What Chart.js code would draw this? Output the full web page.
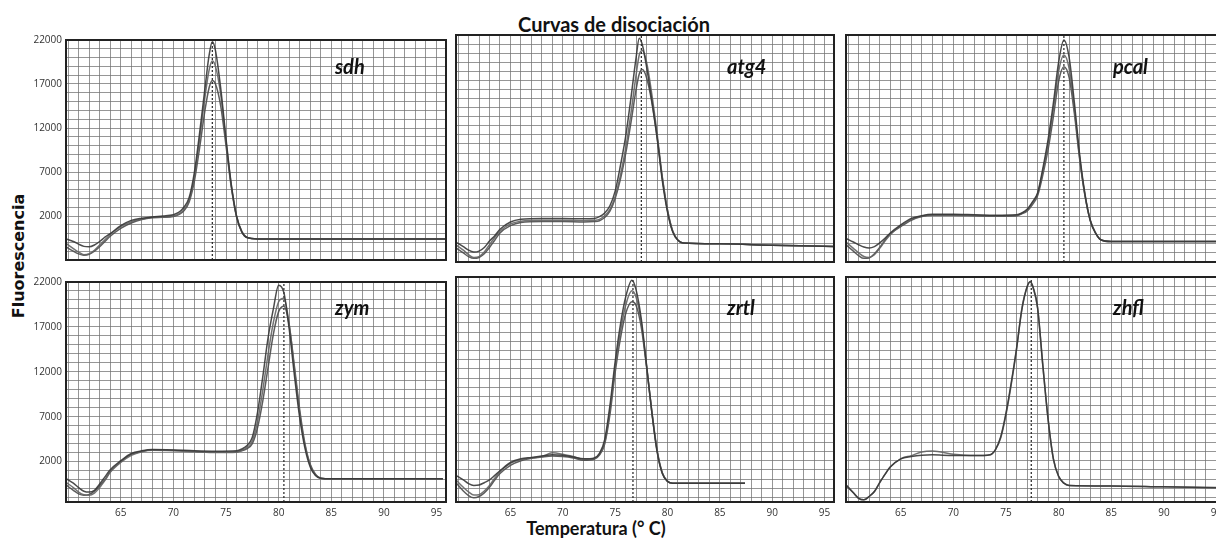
<!DOCTYPE html>
<html>
<head>
<meta charset="utf-8">
<script src="https://cdn.jsdelivr.net/npm/chart.js@4.4.1/dist/chart.umd.min.js"></script>
<style>
    body { margin: 0; width: 1216px; height: 543px; overflow: hidden; background: #fff; position: relative; }
    .panel { position: absolute; }
    .gene { position: absolute; font: italic bold 20px Lato, sans-serif; line-height: 20px; color: #111; }
    #title { position: absolute; left: 464px; top: 14px; width: 300px; text-align: center; font: bold 20px Lato, sans-serif; line-height: 20px; color: #111; }
    #xlabel { position: absolute; left: 496px; top: 519px; width: 200px; text-align: center; font: bold 18px Lato, sans-serif; line-height: 18px; color: #111; }
    #ylabel { position: absolute; left: -61px; top: 248px; width: 160px; text-align: center; font: bold 16px "DejaVu Sans", sans-serif; line-height: 16px; color: #111; transform: rotate(-90deg); }
</style>
</head>
<body>
<div id="title">Curvas de disociación</div>
<div id="ylabel">Fluorescencia</div>
<div id="xlabel">Temperatura (° C)</div>

<script>
// genes, in panel order (left to right, top to bottom)
const genes = ['sdh', 'atg4', 'pcal', 'zym', 'zrtl', 'zhfl'];
const peakTemps = [73.7, 77.5, 80.5, 80.5, 76.7, 77.4];
const yTickLabels = [2000, 7000, 12000, 17000, 22000];
const xTickLabels = [65, 70, 75, 80, 85, 90, 95];

// sdh
const sdhTemps = [59.8, 60.5, 61, 61.5, 62, 62.5, 63, 63.5, 64, 65, 66, 67, 68, 69, 70, 70.5, 71, 71.5, 72, 72.5, 73, 73.4, 73.7, 74, 74.5, 75, 75.5, 76, 76.5, 77, 78, 85, 95.9];
const sdhRuns = [
    [-600, -900, -1200, -1450, -1500, -1300, -900, -400, 0, 900, 1500, 1750, 1900, 2000, 2150, 2400, 3000, 4100, 7000, 11500, 16500, 20300, 21800, 20800, 16500, 10800, 5600, 2000, 200, -450, -600, -600, -620],
    [-1100, -1700, -2100, -2400, -2300, -1900, -1300, -700, -100, 800, 1350, 1650, 1850, 1900, 2000, 2200, 2700, 3800, 6500, 10800, 15500, 18600, 19600, 19000, 15800, 10500, 5500, 2000, 250, -450, -600, -600, -620],
    [-1500, -2000, -2300, -2450, -2350, -2000, -1500, -900, -300, 600, 1200, 1600, 1800, 1850, 1950, 2150, 2600, 3600, 6000, 9800, 14000, 16600, 17400, 17000, 14500, 10000, 5300, 1900, 200, -450, -600, -600, -620]
];

// atg4
const atg4Temps = [59.8, 60.5, 61, 61.5, 62, 62.5, 63, 63.5, 64, 65, 66, 68, 70, 72, 73, 73.5, 74, 74.5, 75, 75.5, 76, 76.5, 77, 77.3, 77.6, 78, 78.5, 79, 79.5, 80, 80.5, 81, 81.5, 85, 90, 95.9];
const atg4Runs = [
    [-800, -1300, -1700, -1900, -1800, -1400, -700, -100, 600, 1400, 1700, 1800, 1800, 1750, 1800, 2000, 2400, 3200, 4800, 7600, 10800, 15000, 19500, 21650, 20900, 18500, 14800, 10800, 6000, 2500, 300, -600, -900, -1000, -1150, -1300],
    [-1100, -1700, -2200, -2500, -2400, -1900, -1100, -300, 400, 1200, 1500, 1600, 1600, 1550, 1600, 1700, 2100, 2800, 4200, 6500, 9500, 13300, 17600, 19800, 20300, 19000, 15500, 11200, 6400, 2700, 400, -600, -900, -1000, -1150, -1300],
    [-1450, -2000, -2400, -2600, -2500, -2100, -1400, -600, 200, 1000, 1350, 1450, 1450, 1400, 1450, 1550, 1900, 2600, 4000, 6100, 8900, 12300, 16000, 17700, 18200, 17300, 14600, 10700, 6300, 2700, 400, -600, -900, -1000, -1150, -1300]
];

// pcal
const pcalTemps = [59.8, 60.5, 61, 61.5, 62, 62.5, 63, 63.5, 64, 65, 66, 67, 68, 70, 72, 74, 76, 76.5, 77, 77.5, 78, 78.5, 79, 79.5, 80, 80.5, 81, 81.5, 82, 82.5, 83, 83.5, 84, 85, 95.9];
const pcalRuns = [
    [-400, -800, -1100, -1350, -1450, -1300, -900, -400, 200, 1100, 1800, 2100, 2250, 2250, 2200, 2150, 2200, 2400, 2800, 3600, 4600, 7300, 10500, 14500, 19000, 21450, 19500, 14500, 8800, 4500, 1600, 200, -550, -750, -750],
    [-800, -1500, -2000, -2400, -2500, -2200, -1500, -700, 0, 1000, 1700, 2050, 2200, 2200, 2150, 2100, 2150, 2350, 2700, 3500, 4500, 7000, 10000, 13800, 18000, 19800, 18300, 13800, 8500, 4400, 1600, 200, -550, -750, -750],
    [-1100, -1800, -2300, -2600, -2550, -2100, -1400, -600, 100, 900, 1600, 2000, 2150, 2150, 2100, 2050, 2100, 2300, 2600, 3300, 4300, 6600, 9400, 13000, 16900, 18500, 17300, 13300, 8300, 4300, 1600, 200, -550, -750, -750]
];

// zym
const zymTemps = [59.8, 60.5, 61, 61.5, 62, 62.5, 63, 63.5, 64, 65, 66, 67, 68, 70, 72, 74, 76, 76.5, 77, 77.5, 78, 78.5, 79, 79.5, 80, 80.5, 81, 81.5, 82, 82.5, 83, 83.5, 84, 85, 95.6];
const zymRuns = [
    [100, -400, -900, -1300, -1400, -1200, -500, 300, 1100, 2100, 2900, 3200, 3350, 3300, 3200, 3150, 3200, 3400, 3800, 4700, 7500, 11500, 15800, 19000, 21650, 20800, 16800, 11600, 6900, 3500, 1400, 450, 150, 80, 80],
    [-300, -900, -1400, -1700, -1750, -1500, -900, -100, 800, 1900, 2700, 3100, 3250, 3200, 3100, 3000, 3050, 3250, 3600, 4300, 6500, 10000, 14000, 17500, 19800, 20200, 17300, 12300, 7400, 3800, 1600, 500, 150, 80, 80],
    [-600, -1200, -1600, -1750, -1650, -1300, -700, 0, 900, 2000, 2800, 3150, 3300, 3250, 3150, 3050, 3100, 3200, 3450, 4000, 5800, 8800, 12500, 16200, 18700, 19300, 17200, 12600, 7800, 4000, 1700, 600, 150, 80, 80]
];

// zrtl
const zrtlTemps = [59.8, 60.5, 61, 61.5, 62, 62.5, 63, 63.5, 64, 65, 66, 67, 68, 69, 70, 71, 72, 73, 73.5, 74, 74.5, 75, 75.5, 76, 76.6, 77, 77.5, 78, 78.5, 79, 79.5, 80, 80.5, 87.4];
const zrtlRuns = [
    [400, -100, -500, -700, -650, -400, -100, 400, 900, 1800, 2200, 2350, 2500, 2650, 2600, 2400, 2200, 2300, 2800, 4300, 8000, 12800, 16800, 19800, 21650, 20600, 17400, 12400, 7300, 3000, 600, -250, -450, -470],
    [-100, -900, -1400, -1750, -1700, -1300, -700, 100, 800, 1700, 2100, 2300, 2450, 2850, 2700, 2450, 2150, 2250, 2700, 4000, 7500, 12200, 16000, 18900, 20500, 19800, 17000, 12300, 7300, 3100, 650, -250, -450, -470],
    [-400, -1300, -1800, -2050, -1900, -1500, -900, -100, 600, 1500, 2000, 2250, 2400, 2500, 2450, 2300, 2050, 2150, 2600, 3800, 7000, 11600, 15300, 18000, 19300, 18900, 16500, 12200, 7400, 3200, 700, -250, -450, -470]
];

// zhfl
const zhflTemps = [59.8, 60.5, 61, 61.5, 62, 62.5, 63, 63.5, 64, 65, 66, 67, 68, 70, 72, 73.5, 74, 74.5, 75, 75.5, 76, 76.5, 77, 77.3, 77.6, 78, 78.5, 79, 79.5, 80, 80.5, 81, 85, 90, 95.9];
const zhflRuns = [
    [-650, -1500, -2100, -2250, -1900, -1350, -400, 500, 1300, 2200, 2450, 2600, 2650, 2550, 2550, 2650, 3200, 4600, 7200, 10500, 14200, 18400, 20900, 21500, 20800, 18700, 12400, 6500, 2200, 300, -450, -700, -750, -850, -950],
    [-650, -1500, -2100, -2250, -1900, -1350, -400, 500, 1300, 2200, 2550, 2950, 3050, 2700, 2550, 2650, 3200, 4500, 7000, 10300, 14100, 18500, 20900, 21450, 20700, 18600, 12300, 6500, 2200, 300, -450, -700, -750, -850, -950]
];

const allTemps = [sdhTemps, atg4Temps, pcalTemps, zymTemps, zrtlTemps, zhflTemps];
const allRuns = [sdhRuns, atg4Runs, pcalRuns, zymRuns, zrtlRuns, zhflRuns];

// layout of the 2x3 grid (pixels)
const colLeft = [0, 450, 840];
const colWidth = [450, 390, 392];
const yAxisWidth = [66, 6, 6];
const padRight = [4, 6, 6];
const rowTop = [30, 272];
const rowHeight = [240, 250];
const xAxisHeight = [8, 20];
const rowMin = [-3000, -2500];
const geneLeft = [335, 727, 1113];
const geneTop = [56, 297];
const xMin = 59.8;
const xMax = 95.9;

const runColors = ['rgba(55,55,55,0.9)', 'rgba(100,100,100,0.9)', 'rgba(75,75,75,0.9)'];
const gridColor = 'rgba(115,115,115,0.75)';

const frame = {
    id: 'frame',
    afterDraw(chart) {
        const { ctx, chartArea: a } = chart;
        ctx.save();
        ctx.strokeStyle = '#222';
        ctx.lineWidth = 2;
        ctx.strokeRect(a.left, a.top, a.right - a.left, a.bottom - a.top);
        ctx.restore();
    }
};

// one grid line per degree and per 1000 units
function degreeTicks(scale) {
    const ticks = [];
    for (let t = Math.ceil(xMin); t <= xMax; t++) ticks.push({ value: t });
    scale.ticks = ticks;
}

function fluoTicks(scale) {
    const ticks = [];
    for (let v = Math.ceil(scale.min / 1000) * 1000; v <= 22000; v += 1000) ticks.push({ value: v });
    scale.ticks = ticks;
}

genes.forEach((gene, i) => {
    const col = i % 3;
    const row = Math.floor(i / 3);

    const wrap = document.createElement('div');
    wrap.className = 'panel';
    wrap.style.left = colLeft[col] + 'px';
    wrap.style.top = rowTop[row] + 'px';
    const canvas = document.createElement('canvas');
    canvas.width = colWidth[col];
    canvas.height = rowHeight[row];
    wrap.appendChild(canvas);
    document.body.appendChild(wrap);

    const label = document.createElement('div');
    label.className = 'gene';
    label.textContent = gene;
    label.style.left = geneLeft[col] + 'px';
    label.style.top = geneTop[row] + 'px';
    document.body.appendChild(label);

    const temps = allTemps[i];
    const datasets = allRuns[i].map((run, k) => ({
        data: temps.map((t, j) => ({ x: t, y: run[j] })),
        borderColor: runColors[k % runColors.length],
        borderWidth: 1.5,
        pointRadius: 0,
        cubicInterpolationMode: 'monotone',
        fill: false
    }));
    datasets.push({
        data: [{ x: peakTemps[i], y: rowMin[row] }, { x: peakTemps[i], y: 22000 }],
        borderColor: '#222',
        borderWidth: 1.2,
        borderDash: [2, 2],
        pointRadius: 0
    });

    new Chart(canvas, {
        type: 'line',
        data: { datasets },
        options: {
            responsive: false,
            animation: false,
            layout: { padding: { top: 5, right: padRight[col], left: 0, bottom: 0 } },
            plugins: { legend: { display: false }, tooltip: { enabled: false } },
            scales: {
                x: {
                    type: 'linear',
                    min: xMin,
                    max: xMax,
                    afterBuildTicks: degreeTicks,
                    afterFit: s => { s.height = xAxisHeight[row]; },
                    border: { display: false },
                    grid: { color: gridColor, lineWidth: 1, drawTicks: false },
                    ticks: {
                        display: row === 1,
                        autoSkip: false,
                        maxRotation: 0,
                        padding: 5,
                        color: '#333',
                        font: { family: 'Open Sans', size: 10 },
                        callback: v => xTickLabels.includes(v) ? v : ''
                    }
                },
                y: {
                    min: rowMin[row],
                    max: 22000,
                    afterBuildTicks: fluoTicks,
                    afterFit: s => { s.width = yAxisWidth[col]; },
                    border: { display: false },
                    grid: { color: gridColor, lineWidth: 1, drawTicks: false },
                    ticks: {
                        display: col === 0,
                        autoSkip: false,
                        padding: 4,
                        color: '#333',
                        font: { family: 'Open Sans', size: 10 },
                        callback: v => yTickLabels.includes(v) ? v : ''
                    }
                }
            }
        },
        plugins: [frame]
    });
});
</script>
</body>
</html>
